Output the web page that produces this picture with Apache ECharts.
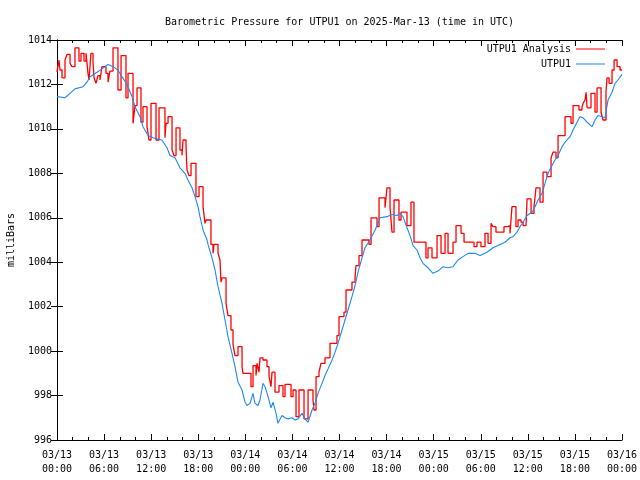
<!DOCTYPE html>
<html>
<head>
<meta charset="utf-8">
<script src="https://cdn.jsdelivr.net/npm/echarts@6/dist/echarts.min.js"></script>
<style>html,body{margin:0;padding:0;background:#fff}#c{width:640px;height:480px}</style>
</head>
<body>
<div id="c"></div>
<script>
// Hours since 2025-03-13 00:00 UTC
const xTickLabels = ['03/13\n00:00','03/13\n06:00','03/13\n12:00','03/13\n18:00','03/14\n00:00','03/14\n06:00','03/14\n12:00','03/14\n18:00','03/15\n00:00','03/15\n06:00','03/15\n12:00','03/15\n18:00','03/16\n00:00'];

const analysisHours = [0,0.25,0.38,0.64,1.02,1.27,1.66,1.91,2.29,2.80,3.06,3.44,3.70,3.95,4.08,4.33,4.59,4.72,4.97,5.22,5.48,5.73,6.24,6.50,6.75,7.14,7.77,8.16,8.79,9.05,9.69,9.94,10.20,10.70,10.96,11.47,11.72,11.98,12.62,13.00,13.76,13.89,14.15,14.66,14.91,15.17,15.67,15.93,16.06,16.44,16.57,16.82,17.08,17.71,18.10,18.61,18.86,18.99,19.62,19.88,20.01,20.52,20.77,20.90,21.03,21.54,21.79,22.17,22.43,22.68,23.07,23.58,23.70,24.72,24.98,25.36,25.49,25.74,25.87,26.25,26.76,27.02,27.27,27.40,27.78,28.29,28.80,29.06,29.82,30.08,30.46,30.84,31.48,31.99,32.62,32.75,33.01,33.39,33.64,34.15,34.79,35.68,35.94,36.57,36.83,37.59,37.98,38.10,38.49,38.87,39.76,40.02,40.78,41.04,41.80,42.05,42.44,42.69,42.95,43.58,43.84,44.60,45.11,45.49,47.02,47.28,47.79,48.43,48.94,49.45,49.83,50.47,50.85,51.49,51.87,53.14,53.52,54.03,54.54,54.93,55.31,55.56,55.94,56.96,57.47,57.73,57.98,58.49,58.75,59.13,59.39,59.77,59.90,60.41,60.79,61.04,61.55,61.94,62.44,62.96,63.21,63.59,63.85,64.74,65.50,65.76,66.52,66.90,67.04,67.29,67.42,67.55,68.05,68.56,68.82,69.33,69.58,69.96,70.09,70.35,70.73,70.99,71.37,71.75,72.00];
const analysisValues = [1012.55,1013.1,1012.65,1012.3,1013.1,1013.35,1012.95,1012.8,1013.65,1013.05,1013.4,1013.05,1013.4,1012.5,1012.2,1013.4,1013.0,1012.3,1012.05,1012.4,1012.2,1012.8,1012.5,1012.1,1012.6,1013.65,1011.75,1013.3,1011.4,1012.5,1010.25,1011.05,1011.85,1010.3,1011.0,1010.1,1009.5,1011.15,1009.5,1010.95,1009.6,1010.25,1010.55,1009.05,1008.8,1010.05,1009.05,1008.8,1009.5,1009.2,1008.15,1007.9,1008.45,1006.95,1007.4,1006.5,1005.75,1005.9,1004.8,1004.4,1004.8,1004.4,1004.1,1003.1,1003.3,1002.15,1001.6,1000.95,1000.3,999.8,1000.2,999.3,999.0,998.4,999.35,998.9,999.45,999.05,999.7,999.6,999.3,998.85,998.4,999.05,998.15,998.45,997.95,998.5,997.95,998.25,997.05,998.25,996.95,998.25,997.8,997.35,998.85,999.05,999.45,999.7,1000.35,1000.7,1001.55,1001.75,1002.75,1003.1,1003.3,1003.85,1004.3,1005.0,1004.8,1006.0,1005.6,1006.9,1006.45,1007.35,1006.45,1005.35,1006.8,1005.9,1006.25,1005.65,1006.7,1004.9,1004.2,1004.65,1004.2,1005.2,1004.4,1005.3,1004.4,1004.9,1005.65,1005.3,1004.9,1004.7,1004.9,1004.7,1005.3,1004.85,1005.75,1005.6,1005.35,1005.6,1005.65,1005.3,1006.5,1005.6,1005.9,1005.8,1005.65,1005.6,1006.85,1006.2,1006.5,1007.35,1006.7,1008.05,1007.85,1008.7,1008.95,1008.7,1009.7,1010.55,1010.25,1011.05,1010.85,1010.95,1011.15,1011.3,1011.65,1010.95,1011.6,1010.75,1011.85,1010.75,1010.4,1011.65,1012.3,1012.05,1012.65,1013.1,1012.8,1012.65,1012.65];

const stationHours = [0,1.02,1.66,2.29,3.31,3.82,4.21,5.10,5.73,6.50,7.14,7.77,8.28,8.92,9.56,9.94,10.58,10.96,11.60,12.23,12.74,13.38,14.02,14.40,15.04,15.67,16.31,16.69,17.20,17.59,17.97,18.22,18.61,19.12,19.24,19.75,20.14,20.52,21.03,21.41,21.79,22.30,22.68,23.07,23.58,23.96,24.21,24.60,24.98,25.23,25.61,25.87,26.25,26.51,26.89,27.27,27.53,27.91,28.16,28.67,29.06,29.44,29.95,30.33,30.71,31.22,31.60,31.99,32.50,32.88,33.26,33.77,34.15,34.54,35.05,35.43,35.81,36.32,36.70,37.08,37.59,37.98,38.36,38.87,39.25,39.89,40.53,40.91,41.16,42.05,42.69,43.33,43.71,44.09,44.60,44.99,45.37,45.88,46.26,46.64,47.28,47.92,48.55,49.19,49.83,50.47,51.10,51.74,52.38,53.27,53.91,54.80,55.56,56.20,57.09,57.73,58.11,58.62,59.00,59.39,59.90,60.53,60.92,61.30,61.81,62.19,62.57,63.08,63.46,63.85,64.36,64.74,65.38,65.76,66.27,66.65,67.04,67.55,68.18,68.56,68.94,69.45,69.84,70.22,70.73,71.11,71.49,72.00];
const stationValues = [1011.45,1011.4,1011.6,1011.8,1011.9,1012.1,1012.35,1012.55,1012.7,1012.9,1012.8,1012.65,1012.35,1012.0,1011.45,1011.0,1010.55,1010.1,1009.7,1009.6,1009.55,1009.5,1009.15,1008.8,1008.7,1008.25,1008.0,1007.7,1007.35,1006.95,1006.5,1006.05,1005.45,1005.0,1004.8,1004.2,1003.65,1002.9,1002.15,1001.4,1000.65,999.9,999.3,998.6,998.25,997.7,997.55,997.65,998.1,997.65,997.55,997.8,998.55,998.4,997.95,997.45,997.7,997.2,996.75,997.1,997.0,996.95,997.0,996.9,996.95,997.2,996.95,996.8,997.35,997.65,998.1,998.55,998.9,999.2,999.6,999.95,1000.35,1000.95,1001.4,1001.85,1002.45,1002.95,1003.55,1004.2,1004.65,1005.0,1005.45,1005.75,1006.0,1006.05,1006.15,1006.1,1006.2,1006.05,1005.55,1005.2,1004.75,1004.55,1004.2,1003.95,1003.75,1003.5,1003.6,1003.8,1003.75,1003.8,1004.1,1004.25,1004.4,1004.4,1004.3,1004.45,1004.65,1004.75,1004.9,1005.1,1005.15,1005.35,1005.6,1005.8,1006.1,1006.25,1006.5,1006.8,1007.1,1007.55,1008.0,1008.35,1008.6,1008.8,1009.2,1009.4,1009.65,1009.95,1010.3,1010.55,1010.5,1010.3,1010.1,1010.4,1010.6,1010.55,1010.5,1011.3,1011.65,1012.05,1012.2,1012.45];

const FONT = 'DejaVu Sans Mono';
const chart = echarts.init(document.getElementById('c'), null, {renderer: 'canvas'});

const axisLine = {show: true, lineStyle: {color: '#000', width: 1}};
const xTicks = {show: true, inside: true, length: 6, lineStyle: {color: '#000'}};
const xMinor = {show: true, splitNumber: 3, length: 3, lineStyle: {color: '#000'}};
const legendText = {fontFamily: FONT, fontSize: 10, color: '#000'};

chart.setOption({
  animation: false,
  backgroundColor: '#fff',
  title: {
    text: 'Barometric Pressure for UTPU1 on 2025-Mar-13 (time in UTC)',
    left: 334.5, top: 12, textAlign: 'center',
    textStyle: {fontFamily: FONT, fontSize: 10, fontWeight: 'normal', color: '#000'}
  },
  legend: [
    {data: [{name: 'UTPU1 Analysis', icon: 'rect'}], right: 30, top: 39, align: 'right',
     itemWidth: 29, itemHeight: 1, itemGap: 6, textStyle: legendText},
    {data: [{name: 'UTPU1', icon: 'rect'}], right: 30, top: 54, align: 'right',
     itemWidth: 29, itemHeight: 1, itemGap: 6, textStyle: legendText}
  ],
  grid: {left: 57, right: 18, top: 40, bottom: 40, containLabel: false, outerBoundsMode: 'none'},
  xAxis: [
    {type: 'value', min: 0, max: 72, interval: 6, position: 'bottom',
     axisLine: axisLine, axisTick: xTicks, minorTick: xMinor, splitLine: {show: false},
     axisLabel: {fontFamily: FONT, fontSize: 10, color: '#000', margin: 8, lineHeight: 14,
       formatter: v => xTickLabels[Math.round(v / 6)] || ''}},
    {type: 'value', min: 0, max: 72, interval: 6, position: 'top',
     axisLine: axisLine, axisTick: xTicks, minorTick: xMinor, splitLine: {show: false},
     axisLabel: {show: false}}
  ],
  yAxis: [
    {type: 'value', min: 996, max: 1014, interval: 2, position: 'left',
     name: 'milliBars', nameLocation: 'middle', nameGap: 41, nameRotate: 90,
     nameTextStyle: {fontFamily: FONT, fontSize: 10, color: '#000'},
     axisLine: axisLine, axisTick: {show: true, inside: true, length: 6, lineStyle: {color: '#000'}},
     splitLine: {show: false},
     axisLabel: {fontFamily: FONT, fontSize: 10, color: '#000', margin: 5, formatter: v => String(v)}},
    {type: 'value', min: 996, max: 1014, interval: 2, position: 'right',
     axisLine: axisLine, axisTick: {show: true, inside: true, length: 6, lineStyle: {color: '#000'}},
     splitLine: {show: false}, axisLabel: {show: false}}
  ],
  series: [
    {name: 'UTPU1 Analysis', type: 'line', step: 'end', xAxisIndex: 0, yAxisIndex: 0,
     data: analysisHours.map((h, i) => [h, analysisValues[i]]),
     symbol: 'none', showSymbol: false, color: '#ff0000',
     lineStyle: {color: '#ff0000', width: 1.3}, z: 2},
    {name: 'UTPU1', type: 'line', xAxisIndex: 0, yAxisIndex: 0,
     data: stationHours.map((h, i) => [h, stationValues[i]]),
     symbol: 'none', showSymbol: false, color: '#1e88f0',
     lineStyle: {color: '#1e88f0', width: 1.1}, z: 3}
  ]
});
</script>
</body>
</html>
